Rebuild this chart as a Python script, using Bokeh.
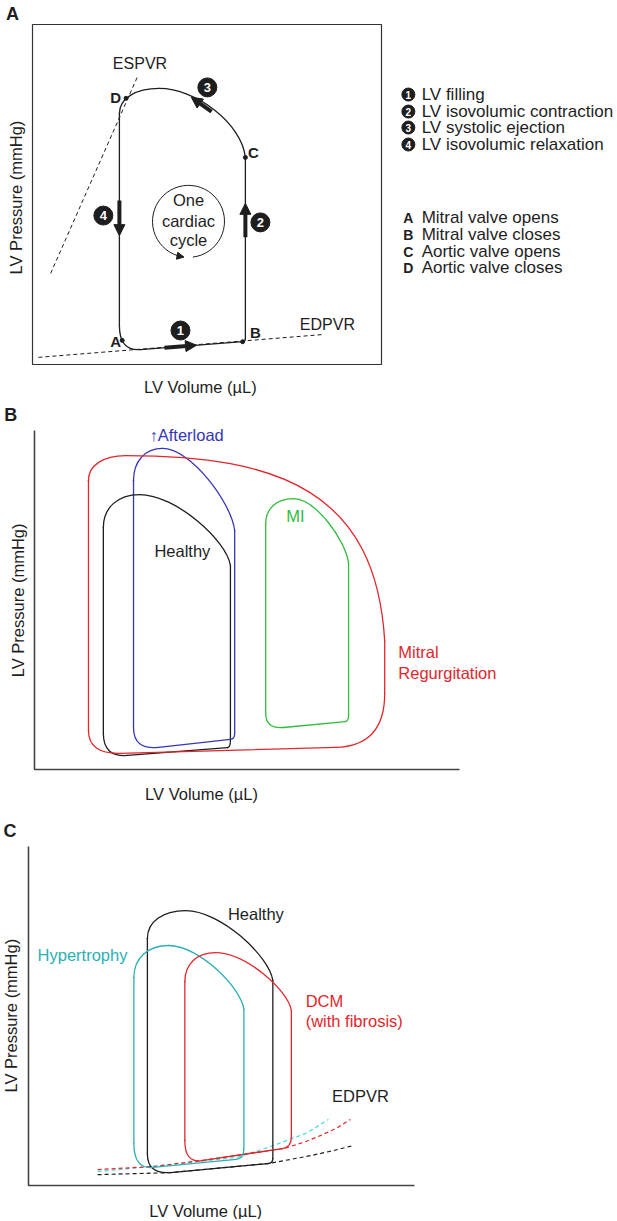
import numpy as np
from bokeh.plotting import figure
from bokeh.layouts import column
from bokeh.models import Range1d, Arrow, NormalHead, ColumnDataSource
from bokeh.core.properties import value
from bokeh.embed import file_html
from bokeh.resources import INLINE

FONT = value("Liberation Sans")

# ---------------------------------------------------------------------------
# DATA  (LV volume / LV pressure in arbitrary units, 0..100 spans each axis)
# ---------------------------------------------------------------------------
# Panel A: one healthy cardiac cycle
A_esv = [24.9]            # left wall of the loop (end-systolic volume)
A_edv = [61.0]            # right wall of the loop (end-diastolic volume)
A_p_bl = [3.9]            # pressure at bottom-left corner
A_p_br = [6.8]            # pressure at bottom-right corner
A_p_avo = [60.9]          # aortic valve opens
A_p_avc = [73.8]          # aortic valve closes (start of left wall)
A_v_peak = [36.3]
A_p_peak = [81.2]
A_rlv = [6.0]; A_rlp = [7.6]; A_rrv = [0.8]; A_rrp = [0.8]
A_shoulder = [0.5]; A_crest = [0.42]

A_espvr_v = [5.2, 30.1]
A_espvr_p = [26.8, 84.7]
A_edpvr_v = [1.7, 83.1]
A_edpvr_p = [2.1, 8.8]

A_valve_names = ["A", "B", "C", "D"]
A_valve_v = [25.7, 60.2, 61.0, 26.8]
A_valve_p = [7.1, 6.7, 60.9, 78.3]

A_phase_nums = ["1", "2", "3", "4"]
A_phase_v0 = [37.8, 61.0, 51.3, 24.9]
A_phase_p0 = [4.94, 37.4, 74.4, 48.2]
A_phase_v1 = [47.0, 61.0, 45.5, 24.9]
A_phase_p1 = [5.67, 47.4, 78.6, 37.9]

A_phase_text = ["LV filling", "LV isovolumic contraction",
                "LV systolic ejection", "LV isovolumic relaxation"]
A_valve_text = ["Mitral valve opens", "Mitral valve closes",
                "Aortic valve opens", "Aortic valve closes"]

# Panel B: Healthy, Afterload, MI, Mitral regurgitation
B_names = ["Healthy", "Afterload", "MI", "MR"]
B_esv = [16.2, 23.3, 54.4, 12.7]
B_edv = [46.1, 47.1, 73.9, 82.4]
B_p_bl = [3.6, 5.7, 11.9, 4.5]
B_p_br = [6.5, 9.0, 14.2, 6.9]
B_p_avo = [60.2, 70.5, 60.8, 38.0]
B_p_avc = [71.4, 85.3, 72.6, 85.3]
B_v_peak = [24.7, 30.1, 60.9, 21.4]
B_p_peak = [81.1, 94.7, 79.9, 92.6]
B_rlv = [5.7, 5.9, 4.2, 7.5]; B_rlp = [7.0, 6.7, 4.6, 7.0]
B_rrv = [0.7, 1.0, 0.8, 11.5]; B_rrp = [2.1, 1.6, 1.8, 15.5]
B_shoulder = [0.35, 0.33, 0.35, 0.8]; B_crest = [0.4, 0.4, 0.4, 0.6]

# Panel C: Healthy, Hypertrophy, DCM
C_names = ["Healthy", "Hypertrophy", "DCM"]
C_esv = [30.8, 27.3, 40.5]
C_edv = [63.3, 55.8, 68.1]
C_p_bl = [3.2, 4.8, 6.6]
C_p_br = [6.6, 7.9, 11.3]
C_p_avo = [60.5, 52.0, 51.6]
C_p_avc = [72.9, 61.4, 60.2]
C_v_peak = [40.7, 36.3, 48.4]
C_p_peak = [81.1, 70.8, 68.7]
C_rlv = [6.0, 4.9, 4.4]; C_rlp = [6.2, 7.6, 6.7]
C_rrv = [1.3, 2.0, 2.3]; C_rrp = [1.4, 3.0, 2.9]
C_shoulder = [0.35, 0.35, 0.35]; C_crest = [0.4, 0.4, 0.4]

C_edpvr_healthy_v = [17.9, 36.8, 62.2, 73.1, 79.0, 84.2]
C_edpvr_healthy_p = [3.2, 3.8, 6.5, 8.8, 10.3, 11.8]
C_edpvr_hyper_v = [17.9, 31.6, 54.1, 63.5, 72.3, 77.7]
C_edpvr_hyper_p = [4.1, 5.6, 8.3, 11.8, 15.6, 19.5]
C_edpvr_dcm_v = [17.9, 32.4, 45.1, 66.1, 71.2, 75.6, 80.1, 83.4]
C_edpvr_dcm_p = [4.7, 5.6, 7.4, 10.9, 12.7, 14.7, 17.1, 19.5]

# ---------------------------------------------------------------------------
# STYLE
# ---------------------------------------------------------------------------
BLACK = "#1e1e1e"
RED = "#e3262b"
BLUE = "#3636b4"
GREEN = "#30bd3d"
TEAL = "#2ab0b3"
TEAL_DASH = "#45dbe2"
LW = 1.3
FS = "16.5px"
W = 617


def make_fig(height, box_left, box_right, box_top, box_bottom):
    sx = (box_right - box_left) / 100.0
    sy = (box_bottom - box_top) / 100.0
    p = figure(width=W, height=height, output_backend="svg", toolbar_location=None,
               x_range=Range1d(-box_left / sx, (W - box_left) / sx),
               y_range=Range1d((box_bottom - height) / sy, box_bottom / sy),
               x_axis_location=None, y_axis_location=None, min_border=0)
    p.grid.visible = False
    p.outline_line_color = None
    p.background_fill_color = "white"
    p.border_fill_color = "white"
    return p


def draw_loops(p, esv, edv, pbl, pbr, pavo, pavc, vpk, ppk, rlv, rlp, rrv, rrp, sh, cr, colors):
    seg = dict(x0=[], y0=[], x1=[], y1=[], c=[])
    qd = dict(x0=[], y0=[], x1=[], y1=[], cx=[], cy=[], c=[])
    bz = dict(x0=[], y0=[], x1=[], y1=[], cx0=[], cy0=[], cx1=[], cy1=[], c=[])
    for i in range(len(esv)):
        vl, vr = esv[i], edv[i]
        s = (pbr[i] - pbl[i]) / (vr - vl)
        bl_end = (vl + rlv[i], pbl[i] + s * rlv[i])
        br_start = (vr - rrv[i], pbr[i] - s * rrv[i])
        c = colors[i]
        for (a0, b0, a1, b1) in [(vl, pavc[i], vl, pbl[i] + rlp[i]),
                                 (bl_end[0], bl_end[1], br_start[0], br_start[1]),
                                 (vr, pbr[i] + rrp[i], vr, pavo[i])]:
            seg["x0"].append(a0); seg["y0"].append(b0)
            seg["x1"].append(a1); seg["y1"].append(b1); seg["c"].append(c)
        for (a0, b0, a1, b1, kx, ky) in [(vl, pbl[i] + rlp[i], bl_end[0], bl_end[1], vl, pbl[i]),
                                         (br_start[0], br_start[1], vr, pbr[i] + rrp[i], vr, pbr[i])]:
            qd["x0"].append(a0); qd["y0"].append(b0); qd["x1"].append(a1); qd["y1"].append(b1)
            qd["cx"].append(kx); qd["cy"].append(ky); qd["c"].append(c)
        # ejection curve (aortic opening -> peak) and peak -> aortic closing
        bz["x0"] += [vr, vpk[i]]; bz["y0"] += [pavo[i], ppk[i]]
        bz["x1"] += [vpk[i], vl]; bz["y1"] += [ppk[i], pavc[i]]
        bz["cx0"] += [vr - 0.03 * (vr - vl), vpk[i] - 0.6 * (vpk[i] - vl)]
        bz["cy0"] += [pavo[i] + sh[i] * (ppk[i] - pavo[i]), ppk[i]]
        bz["cx1"] += [vpk[i] + cr[i] * (vr - vpk[i]), vl]
        bz["cy1"] += [ppk[i], pavc[i] + 0.6 * (ppk[i] - pavc[i])]
        bz["c"] += [c, c]
    p.segment(x0="x0", y0="y0", x1="x1", y1="y1", line_color="c", line_width=LW,
              line_cap="round", source=ColumnDataSource(seg))
    p.quadratic(x0="x0", y0="y0", x1="x1", y1="y1", cx="cx", cy="cy", line_color="c",
                line_width=LW, line_cap="round", source=ColumnDataSource(qd))
    p.bezier(x0="x0", y0="y0", x1="x1", y1="y1", cx0="cx0", cy0="cy0", cx1="cx1", cy1="cy1",
             line_color="c", line_width=LW, line_cap="round", source=ColumnDataSource(bz))


def txt(p, x, y, t, color=BLACK, size=FS, align="center", style="normal", angle=0.0,
        baseline="middle"):
    p.text(x=x, y=y, text=t, text_font=FONT, text_font_size=size, text_color=color,
           text_align=align, text_baseline=baseline, text_font_style=style, angle=angle)


# ---------------------------------------------------------------------------
# PANEL A
# ---------------------------------------------------------------------------
pA = make_fig(398, 32, 381, 24, 364)
pA.quad(left=[0], right=[100], bottom=[0], top=[100], fill_color=None,
        line_color="#333333", line_width=1.2)
txt(pA, [-7.6], [103.1], ["A"], size="18px", style="bold", align="left")
txt(pA, [48.1], [-6.5], ["LV Volume (µL)"])
txt(pA, [-4.7], [49.1], ["LV Pressure (mmHg)"], angle=np.pi / 2)

pA.line(A_espvr_v, A_espvr_p, line_color=BLACK, line_width=1, line_dash="4 3")
pA.line(A_edpvr_v, A_edpvr_p, line_color=BLACK, line_width=1, line_dash="4 3")
txt(pA, [30.8], [88.5], ["ESPVR"], size="16px")
txt(pA, [84.5], [11.8], ["EDPVR"], size="16px")

draw_loops(pA, A_esv, A_edv, A_p_bl, A_p_br, A_p_avo, A_p_avc, A_v_peak, A_p_peak,
           A_rlv, A_rlp, A_rrv, A_rrp, A_shoulder, A_crest, [BLACK])

pA.scatter(A_valve_v, A_valve_p, size=4, color=BLACK)
txt(pA, [23.8, 63.9, 63.3, 23.8], [6.8, 9.4, 62.4, 78.5], A_valve_names, size="15px",
    style="bold")

pA.add_layout(Arrow(end=NormalHead(size=11, fill_color=BLACK, line_color=BLACK, line_width=1),
                    x_start="xs", y_start="ys", x_end="xe", y_end="ye", line_width=4,
                    line_color=BLACK,
                    source=ColumnDataSource(dict(xs=A_phase_v0, ys=A_phase_p0,
                                                 xe=A_phase_v1, ye=A_phase_p1))))
num_x = [42.4, 65.3, 50.1, 20.3]
num_y = [10.0, 41.8, 81.5, 43.8]
pA.scatter(num_x, num_y, size=19, color=BLACK)
txt(pA, num_x, num_y, A_phase_nums, color="white", size="13px", style="bold")

# one cardiac cycle
pA.arc(x=[44.7], y=[42.1], radius=36, radius_units="screen", start_angle=277,
       end_angle=252, start_angle_units="deg", end_angle_units="deg",
       line_color=BLACK, line_width=1)
pA.add_layout(Arrow(end=NormalHead(size=7, fill_color=BLACK, line_color=BLACK, line_width=1),
                    x_start=41.3, y_start=32.0, x_end=43.4, y_end=31.6, line_width=1,
                    line_color=BLACK))
txt(pA, [44.7, 44.7, 44.7], [48.5, 42.1, 36.6], ["One", "cardiac", "cycle"])

# legend (right of the box)
leg_y1 = [79.4, 74.4, 69.7, 64.7]
leg_y2 = [43.2, 38.2, 33.2, 28.5]
pA.scatter([107.7] * 4, leg_y1, size=13, color=BLACK)
txt(pA, [107.7] * 4, leg_y1, A_phase_nums, color="white", size="10px", style="bold")
txt(pA, [111.5] * 4, leg_y1, A_phase_text, size="17px", align="left")
txt(pA, [107.7] * 4, leg_y2, A_valve_names, size="14px", style="bold")
txt(pA, [111.5] * 4, leg_y2, A_valve_text, size="17px", align="left")

# ---------------------------------------------------------------------------
# PANEL B
# ---------------------------------------------------------------------------
pB = make_fig(407, 34, 459, 32, 371)
pB.line([0, 0, 100], [100, 0, 0], line_color="#444444", line_width=1.6)
txt(pB, [-7.1], [104.7], ["B"], size="18px", style="bold", align="left")
txt(pB, [39.3], [-7.1], ["LV Volume (µL)"])
txt(pB, [-4.0], [49.9], ["LV Pressure (mmHg)"], angle=np.pi / 2)

draw_loops(pB, B_esv, B_edv, B_p_bl, B_p_br, B_p_avo, B_p_avc, B_v_peak, B_p_peak,
           B_rlv, B_rlp, B_rrv, B_rrp, B_shoulder, B_crest, [BLACK, BLUE, GREEN, RED])
txt(pB, [34.8], [64.6], ["Healthy"])
txt(pB, [35.8], [98.8], ["↑Afterload"], color=BLUE)
txt(pB, [61.4], [74.9], ["MI"], color=GREEN)
txt(pB, [85.6, 85.6], [34.8, 28.6], ["Mitral", "Regurgitation"], color=RED, align="left")

# ---------------------------------------------------------------------------
# PANEL C
# ---------------------------------------------------------------------------
pC = make_fig(414, 28, 414, 41, 380)
pC.line([0, 0, 100], [100, 0, 0], line_color="#444444", line_width=1.6)
txt(pC, [-6.5], [104.7], ["C"], size="18px", style="bold", align="left")
txt(pC, [45.9], [-7.4], ["LV Volume (µL)"])
txt(pC, [-4.6], [50.1], ["LV Pressure (mmHg)"], angle=np.pi / 2)

pC.line(C_edpvr_healthy_v, C_edpvr_healthy_p, line_color=BLACK, line_width=1.2, line_dash="4 3")
pC.line(C_edpvr_hyper_v, C_edpvr_hyper_p, line_color=TEAL_DASH, line_width=1.2, line_dash="4 3")
pC.line(C_edpvr_dcm_v, C_edpvr_dcm_p, line_color=RED, line_width=1.2, line_dash="4 3")
draw_loops(pC, C_esv, C_edv, C_p_bl, C_p_br, C_p_avo, C_p_avc, C_v_peak, C_p_peak,
           C_rlv, C_rlp, C_rrv, C_rrp, C_shoulder, C_crest, [BLACK, TEAL, RED])
txt(pC, [58.9], [80.2], ["Healthy"])
txt(pC, [14.0], [68.1], ["Hypertrophy"], color=TEAL)
txt(pC, [71.8, 71.8], [54.3, 48.4], ["DCM", "(with fibrosis)"], color=RED, align="left")
txt(pC, [86.0], [26.5], ["EDPVR"])

layout = column(pA, pB, pC)
open("out.html", "w").write(file_html(layout, INLINE))
